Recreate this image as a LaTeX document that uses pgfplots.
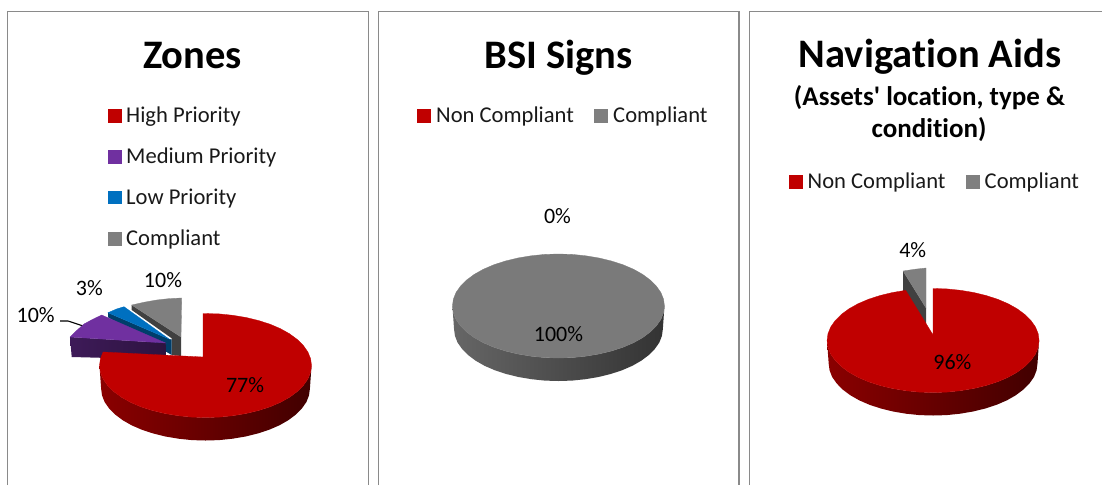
\documentclass[border=0pt]{standalone}
\usepackage{pgfplots}
\pgfplotsset{compat=1.18}
\usepackage{pgfplotstable}
\usepackage{fontspec}
\setmainfont[Ligatures={CommonOff,TeXOff}]{Carlito}
\definecolor{cred}{HTML}{C00000}
\definecolor{cpur}{HTML}{7030A0}
\definecolor{cblu}{HTML}{0070C0}
\definecolor{cgry}{HTML}{7F7F7F}
\definecolor{cframe}{HTML}{8A8A8A}
\pgfplotsset{
  px/.style={width=1102pt,height=485pt,scale only axis,hide axis,y dir=reverse,at={(0pt,0pt)},anchor=south west},
  ptop/.style={draw=#1,line width=.3pt,fill=#1,no markers,solid},
  pside/.style n args={3}{draw=none,left color=#1,middle color=#2,right color=#3,no markers},
  sq/.style={only marks,mark=square*,mark size=6.4pt,mark options={draw=#1,fill=#1,line width=.2pt}},
}
\tikzset{
  lab/.style={anchor=base,font=\fontsize{22}{24}\selectfont,text=black,inner sep=0pt},
  leg/.style={anchor=base west,font=\fontsize{22.6}{24}\selectfont,text=black!90,inner sep=0pt},
  ttl/.style={anchor=base,font=\fontsize{40.5}{42}\selectfont\bfseries,text=black,inner sep=0pt},
  sbt/.style={anchor=base,font=\fontsize{27}{28}\selectfont\bfseries,text=black,inner sep=0pt},
}
% Side wall of a disc, relative to the centre of its top ellipse
\pgfplotstableread{
x y
-106 0
-105.1 6.8
-102.4 13.5
-97.9 19.9
-91.8 26
-84.1 31.7
-75 36.8
-64.5 41.3
-53 45
-40.6 48
-27.4 50.2
-13.8 51.6
0 52
13.8 51.6
27.4 50.2
40.6 48
53 45
64.5 41.3
75 36.8
84.1 31.7
91.8 26
97.9 19.9
102.4 13.5
105.1 6.8
106 0
104.4 23
103.5 29.8
100.9 36.5
96.4 42.9
90.4 49
82.8 54.7
73.9 59.8
63.5 64.3
52.2 68
40 71
27 73.2
13.6 74.6
0 75
-13.6 74.6
-27 73.2
-40 71
-52.2 68
-63.5 64.3
-73.9 59.8
-82.8 54.7
-90.4 49
-96.4 42.9
-100.9 36.5
-103.5 29.8
-104.4 23
}\sidewall
% Arc of the top ellipse, clockwise from the top round the right, bottom and left
\pgfplotstableread{
x y
0 -52
13.8 -51.6
27.4 -50.2
40.6 -48
53 -45
64.5 -41.3
75 -36.8
84.1 -31.7
91.8 -26
97.9 -19.9
102.4 -13.5
105.1 -6.8
106 0
105.1 6.8
102.4 13.5
97.9 19.9
91.8 26
84.1 31.7
75 36.8
64.5 41.3
53 45
40.6 48
27.4 50.2
13.8 51.6
0 52
-13.8 51.6
-27.4 50.2
-40.6 48
-53 45
-64.5 41.3
-75 36.8
-84.1 31.7
-91.8 26
-97.9 19.9
-102.4 13.5
-105.1 6.8
-106 0
-105.1 -6.8
-102.4 -13.5
-97.9 -19.9
-91.8 -26
-84.1 -31.7
-75 -36.8
-64.5 -41.3
-53 -45
-40.6 -48
-27.4 -50.2
-13.8 -51.6
}\topdisc
\begin{document}
\begin{tikzpicture}
\useasboundingbox (0pt,0pt) rectangle (1102pt,485pt);
% Frames, titles, legends, labels: axis in reference pixels
\begin{axis}[px,xmin=0,xmax=1102,ymin=0,ymax=485,clip=true]
\addplot[cframe,line width=1.6pt,no markers] coordinates {(7.5,485) (7.5,11.6) (368.5,11.6) (368.5,485)};
\addplot[cframe,line width=1.6pt,no markers] coordinates {(378.6,485) (378.6,11.6) (739,11.6) (739,485)};
\addplot[cframe,line width=1.6pt,no markers] coordinates {(749.4,485) (749.4,11.6) (1102,11.6)};
\addplot[sq=cred] coordinates {(114.5,115.3) (423.5,115.3) (795.5,181.3)};
\addplot[sq=cpur] coordinates {(114.5,156.3)};
\addplot[sq=cblu] coordinates {(114.5,197)};
\addplot[sq=cgry] coordinates {(114.5,238.5) (600.5,115.3) (972.5,181.3)};
\addplot[black,line width=1.1pt,no markers] coordinates {(60,321) (68,321) (83.3,326)};
\node[ttl] at (axis cs:192.5,68) {Zones};
\node[ttl] at (axis cs:558.5,68) {BSI Signs};
\node[ttl] at (axis cs:930,67.5) {Navigation Aids};
\node[sbt] at (axis cs:929.5,105) {(Assets' location, type \&};
\node[sbt] at (axis cs:929,137.5) {condition)};
\node[leg] at (axis cs:126,122) {High Priority};
\node[leg] at (axis cs:126,163) {Medium Priority};
\node[leg] at (axis cs:126,204) {Low Priority};
\node[leg] at (axis cs:126,245) {Compliant};
\node[leg] at (axis cs:436,122) {Non Compliant};
\node[leg] at (axis cs:613,122) {Compliant};
\node[leg] at (axis cs:807.5,188.3) {Non Compliant};
\node[leg] at (axis cs:984.5,188.3) {Compliant};
\end{axis}
% Zones pie, centre (205.5,365.5)
\begin{axis}[px,xmin=-205.5,xmax=896.5,ymin=-365.5,ymax=119.5]
\addplot[draw=none,fill=black!75,no markers] coordinates {(-73.8,-60.5) (-73.8,-55.5) (-33.8,-27.2) (-33.8,-10.5) (-24.5,-9.5) (-24.5,-28.5)} -- cycle;
\addplot[ptop=cgry] coordinates {(-24.5,-28.5) (-23.8,-67.5) (-36.3,-66.9) (-48.8,-65.5) (-61.3,-63.3) (-73.8,-60.5)} -- cycle;
\addplot[draw=none,fill=cblu!55!black,no markers] coordinates {(-97.5,-52.8) (-97.5,-48.2) (-33.8,-10.5) (-33.8,-26) (-36.5,-26.5)} -- cycle;
\addplot[ptop=cblu] coordinates {(-36.5,-26.5) (-81.5,-58.8) (-89,-56.5) (-97.5,-52.8)} -- cycle;
\addplot[pside={cpur!55!black}{cpur!45!black}{cpur!40!black}] coordinates {(-135.5,-28.5) (-133.8,-8.5) (-39.5,-6) (-39.8,-22.5)} -- cycle;
\addplot[ptop=cpur] coordinates {(-39.8,-22.5) (-103.8,-50.5) (-112.8,-46.2) (-121.5,-41.5) (-128.7,-35.1) (-135.5,-28.5)} -- cycle;
\addplot[pside={cred!72!black}{cred!52!black}{cred!34!black}] table {\sidewall} -- cycle;
\addplot[ptop=cred] coordinates {(-2.5,-8.5) (-2.5,-52) (13.8,-51.6) (27.4,-50.2) (40.6,-48) (53,-45) (64.5,-41.3) (75,-36.8) (84.1,-31.7) (91.8,-26) (97.9,-19.9) (102.4,-13.5) (105.1,-6.8) (106,0) (105.1,6.8) (102.4,13.5) (97.9,19.9) (91.8,26) (84.1,31.7) (75,36.8) (64.5,41.3) (53,45) (40.6,48) (27.4,50.2) (13.8,51.6) (0,52) (-13.8,51.6) (-27.4,50.2) (-40.6,48) (-53,45) (-64.5,41.3) (-75,36.8) (-84.1,31.7) (-91.8,26) (-97.9,19.9) (-102.4,13.5) (-105.1,6.8) (-106,0) (-105.1,-6.8) (-102.4,-13.5)} -- cycle;
\node[lab] at (axis cs:-42.5,-77.8) {10\%};
\node[lab] at (axis cs:-116.2,-69.8) {3\%};
\node[lab] at (axis cs:-169.8,-43.5) {10\%};
\node[lab] at (axis cs:39.5,26.8) {77\%};
\end{axis}
% BSI Signs pie, centre (558.4,306)
\begin{axis}[px,xmin=-558.4,xmax=543.6,ymin=-306,ymax=179]
\addplot[pside={black!60}{black!67}{black!80}] table {\sidewall} -- cycle;
\addplot[ptop=black!52] table {\topdisc} -- cycle;
\node[lab] at (axis cs:-1,-82.7) {0\%};
\node[lab] at (axis cs:0,35.7) {100\%};
\end{axis}
% Navigation Aids pie, centre (933,340.5)
\begin{axis}[px,xmin=-933,xmax=169,ymin=-340.5,ymax=144.5]
\addplot[draw=none,fill=black!75,no markers] coordinates {(-30,-69.5) (-30,-40) (-7,-5) (-7,-32.5)} -- cycle;
\addplot[ptop=cgry] coordinates {(-7,-32.5) (-7,-72.5) (-18,-71.3) (-30,-69.5)} -- cycle;
\addplot[pside={cred!72!black}{cred!52!black}{cred!34!black}] table {\sidewall} -- cycle;
\addplot[ptop=cred] coordinates {(0,-5.5) (0,-52) (13.8,-51.6) (27.4,-50.2) (40.6,-48) (53,-45) (64.5,-41.3) (75,-36.8) (84.1,-31.7) (91.8,-26) (97.9,-19.9) (102.4,-13.5) (105.1,-6.8) (106,0) (105.1,6.8) (102.4,13.5) (97.9,19.9) (91.8,26) (84.1,31.7) (75,36.8) (64.5,41.3) (53,45) (40.6,48) (27.4,50.2) (13.8,51.6) (0,52) (-13.8,51.6) (-27.4,50.2) (-40.6,48) (-53,45) (-64.5,41.3) (-75,36.8) (-84.1,31.7) (-91.8,26) (-97.9,19.9) (-102.4,13.5) (-105.1,6.8) (-106,0) (-105.1,-6.8) (-102.4,-13.5) (-97.9,-19.9) (-91.8,-26) (-84.1,-31.7) (-75,-36.8) (-64.5,-41.3) (-53,-45) (-40.6,-48) (-27.4,-50.2)} -- cycle;
\node[lab] at (axis cs:-20.3,-83.2) {4\%};
\node[lab] at (axis cs:19.3,28.5) {96\%};
\end{axis}
\end{tikzpicture}
\end{document}
